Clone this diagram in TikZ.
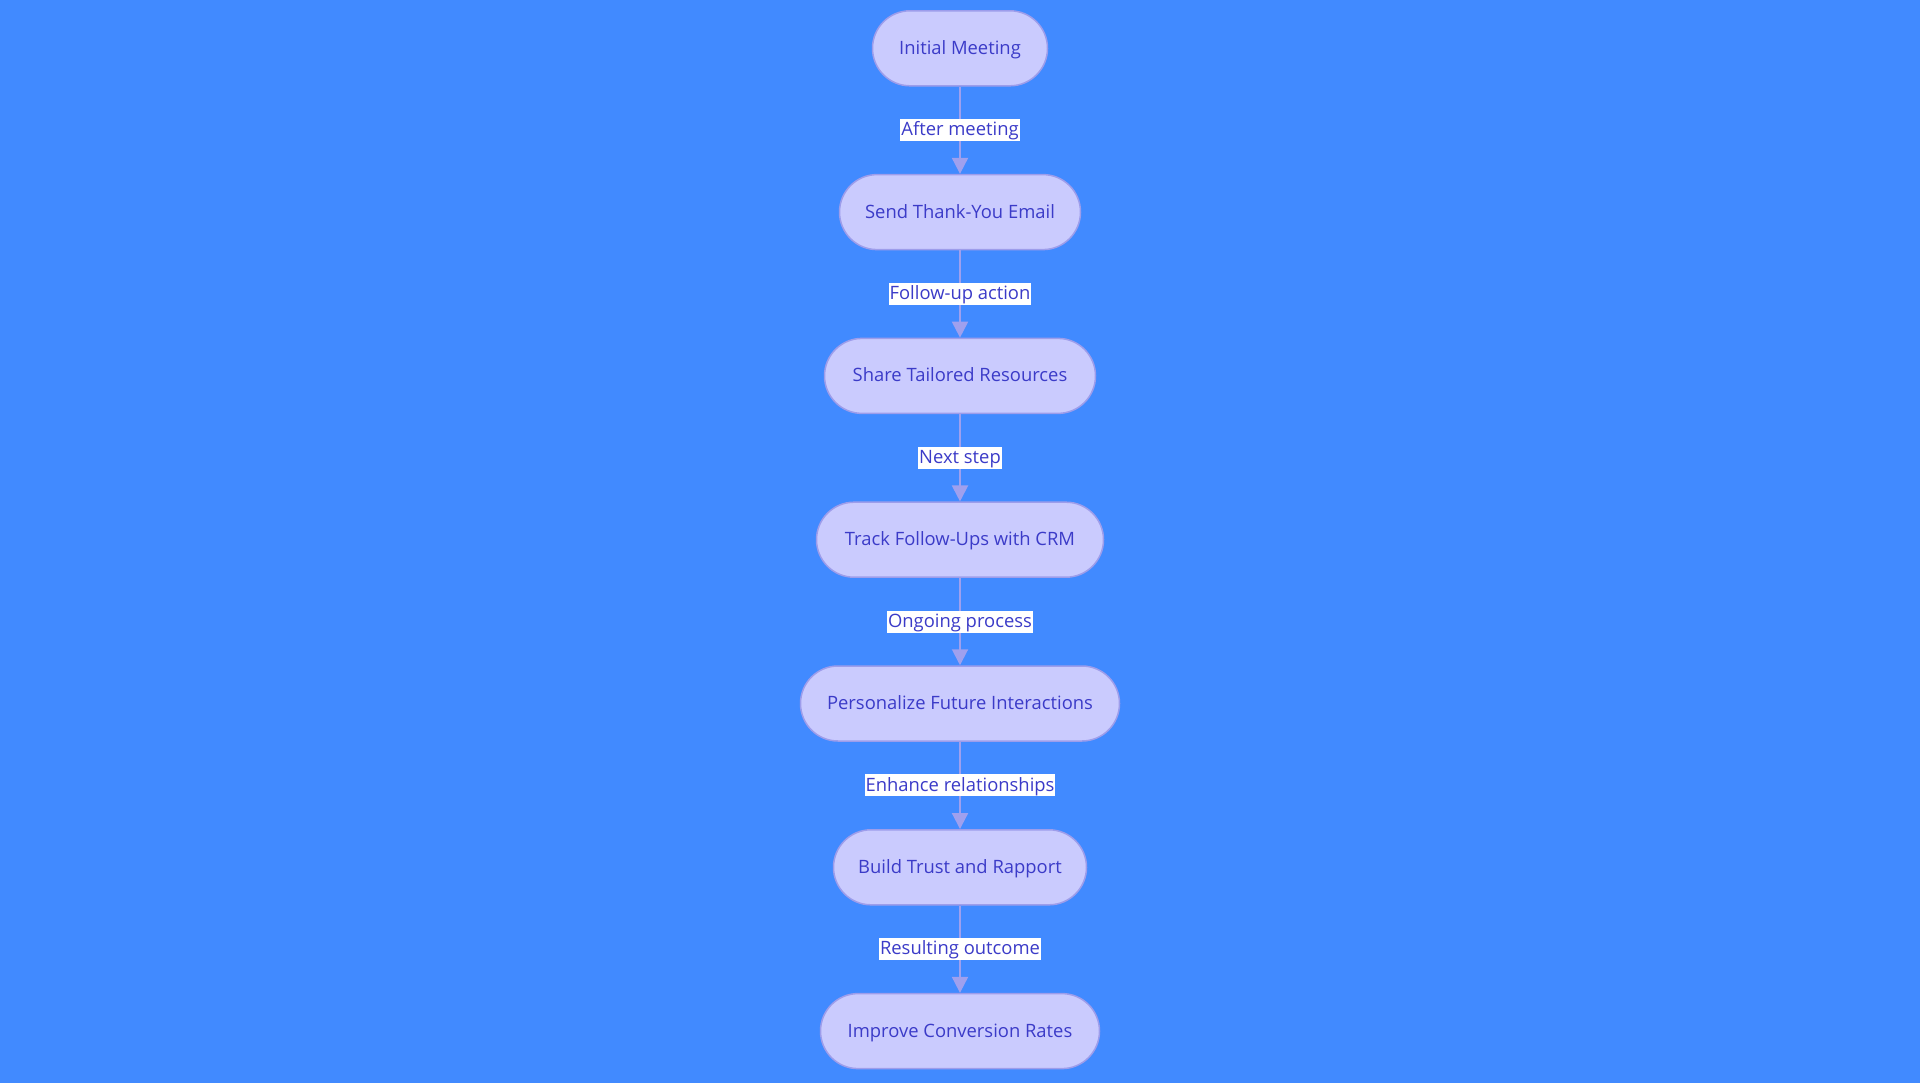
\documentclass[tikz,border=0pt]{standalone}
\usepackage{fontspec}
\setmainfont{Open Sans}
\definecolor{bgc}{HTML}{418AFF}
\definecolor{nodefill}{HTML}{CACBFE}
\definecolor{nodeline}{HTML}{9D9DEB}
\definecolor{txt}{HTML}{3B3BC8}
\definecolor{edgec}{HTML}{9FA0EE}
\usetikzlibrary{arrows.meta}
\tikzset{
  stepbox/.style={draw=nodeline, line width=1.5pt, fill=nodefill, rounded corners=37.5pt,
    minimum height=75pt, inner xsep=0pt, text height=13pt, text depth=1pt,
    text=txt, font=\fontsize{18.4}{22}\selectfont},
  flow/.style={draw=edgec, line width=2pt, -{Triangle[length=16pt,width=16pt]}},
  elabel/.style={fill=white, text=txt, inner xsep=1pt, inner ysep=1.5pt,
    text height=15.2pt, text depth=3.8pt, font=\fontsize{18.4}{22}\selectfont}
}
\begin{document}
\begin{tikzpicture}[x=1pt,y=-1pt]
\fill[bgc] (0,0) rectangle (1920,1083);
\useasboundingbox (0,0) rectangle (1920,1083);
\node[stepbox, minimum width=175pt] (n1) at (960,48.3) {Initial Meeting};
\node[stepbox, minimum width=241pt] (n2) at (960,212.1) {Send Thank-You Email};
\node[stepbox, minimum width=271pt] (n3) at (960,375.9) {Share Tailored Resources};
\node[stepbox, minimum width=287pt] (n4) at (960,539.7) {Track Follow-Ups with CRM};
\node[stepbox, minimum width=319pt] (n5) at (960,703.5) {Personalize Future Interactions};
\node[stepbox, minimum width=253pt] (n6) at (960,867.3) {Build Trust and Rapport};
\node[stepbox, minimum width=279pt] (n7) at (960,1031.1) {Improve Conversion Rates};
\draw[flow] (n1) -- node[elabel] {After meeting} (n2);
\draw[flow] (n2) -- node[elabel] {Follow-up action} (n3);
\draw[flow] (n3) -- node[elabel] {Next step} (n4);
\draw[flow] (n4) -- node[elabel] {Ongoing process} (n5);
\draw[flow] (n5) -- node[elabel] {Enhance relationships} (n6);
\draw[flow] (n6) -- node[elabel] {Resulting outcome} (n7);
\end{tikzpicture}
\end{document}
